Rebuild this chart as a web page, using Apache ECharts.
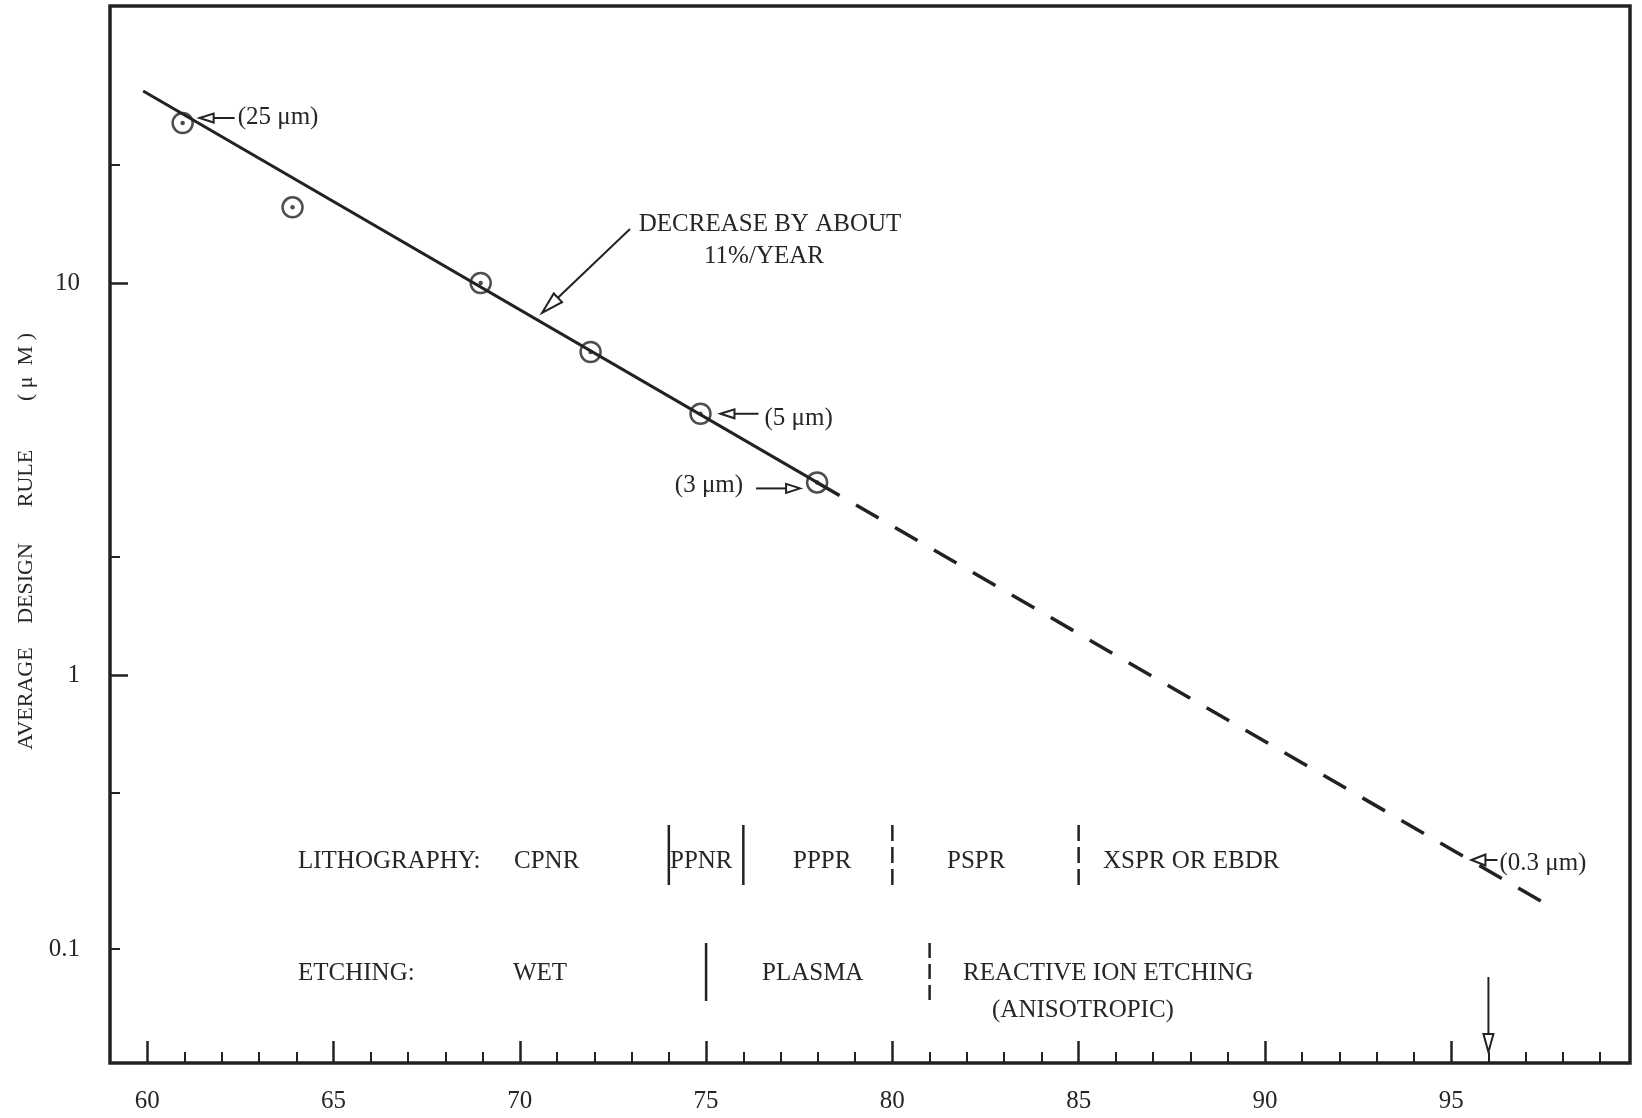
<!DOCTYPE html>
<html>
<head>
<meta charset="utf-8">
<script src="https://cdn.jsdelivr.net/npm/echarts@6/dist/echarts.min.js"></script>
<style>
html,body{margin:0;padding:0;background:#fff;}
#c{width:1642px;height:1118px;}
</style>
</head>
<body>
<div id="c"></div>
<script>
// ---------------- data ----------------
const years = [60.95, 63.9, 68.95, 71.9, 74.85, 77.98];
const designRule = [25.6, 15.6, 10.0, 6.67, 4.64, 3.1];
const trendSolidYears = [59.89, 77.98];
const trendSolidValues = [30.9, 3.1];
const trendDashedYears = [77.98, 97.44];
const trendDashedValues = [3.1, 0.264];
const xMajorTicks = [60, 65, 70, 75, 80, 85, 90, 95];
const xMinorTicks = [61, 62, 63, 64, 66, 67, 68, 69, 71, 72, 73, 74, 76, 77, 78, 79,
                     81, 82, 83, 84, 86, 87, 88, 89, 91, 92, 93, 94, 96, 97, 98, 99];
const yMajorTicks = [10, 1];
const yMinorTicks = [20, 2, 0.5, 0.2];
const yLabelValues = [10, 1, 0.2];
const yLabelTexts = ['10', '1', '0.1'];
const lithoBoundaries = [74, 76, 80, 85];
const lithoBoundaryDashed = [false, false, true, true];
const lithoNames = ['CPNR', 'PPNR', 'PPPR', 'PSPR', 'XSPR OR EBDR'];
const etchBoundaries = [75, 81];
const etchBoundaryDashed = [false, true];
const etchNames = ['WET', 'PLASMA', 'REACTIVE ION ETCHING', '(ANISOTROPIC)'];
const markedYear = 96;

// ---------------- styling ----------------
const FONT = '"Liberation Serif", "Times New Roman", serif';
const INK = '#222222';
const TEXT = '#262626';

const chart = echarts.init(document.getElementById('c'));

function zip(xs, ys) { return xs.map((x, i) => [x, ys[i]]); }
function yLabel(v) {
  const i = yLabelValues.findIndex(u => Math.abs(Math.log10(u) - Math.log10(v)) < 1e-6);
  return i >= 0 ? yLabelTexts[i] : '';
}

const baseX = {
  type: 'value', min: 59, max: 99.8, position: 'bottom',
  axisLine: { show: false }, splitLine: { show: false }
};
const baseY = {
  type: 'log', logBase: 10, min: 0.1024, max: 50.9, position: 'left',
  axisLine: { show: false }, splitLine: { show: false }, minorTick: { show: false }
};

chart.setOption({
  animation: false,
  backgroundColor: '#ffffff',
  grid: { left: 110, right: 12, top: 6, bottom: 55, show: true,
          borderColor: INK, borderWidth: 3.5, backgroundColor: 'transparent' },
  xAxis: [
    Object.assign({}, baseX, {
      axisTick: { show: true, inside: true, length: 22, customValues: xMajorTicks,
                  lineStyle: { color: INK, width: 2.5 } },
      axisLabel: { show: true, customValues: xMajorTicks, margin: 26,
                   fontFamily: FONT, fontSize: 25, color: TEXT, formatter: v => String(v) }
    }),
    Object.assign({}, baseX, {
      axisTick: { show: true, inside: true, length: 11, customValues: xMinorTicks,
                  lineStyle: { color: INK, width: 2 } },
      axisLabel: { show: false }
    })
  ],
  yAxis: [
    Object.assign({}, baseY, {
      axisTick: { show: true, inside: true, length: 18, customValues: yMajorTicks,
                  lineStyle: { color: INK, width: 2.5 } },
      axisLabel: { show: true, customValues: yLabelValues, margin: 30,
                   fontFamily: FONT, fontSize: 25, color: TEXT, formatter: yLabel }
    }),
    Object.assign({}, baseY, {
      axisTick: { show: true, inside: true, length: 10, customValues: yMinorTicks,
                  lineStyle: { color: INK, width: 2 } },
      axisLabel: { show: false }
    })
  ],
  series: [
    { type: 'line', xAxisIndex: 0, yAxisIndex: 0, data: zip(trendSolidYears, trendSolidValues),
      symbol: 'none', lineStyle: { color: INK, width: 3 }, z: 2 },
    { type: 'line', xAxisIndex: 0, yAxisIndex: 0, data: zip(trendDashedYears, trendDashedValues),
      symbol: 'none', lineStyle: { color: INK, width: 3.5, type: [26, 19] }, z: 2 },
    { type: 'scatter', xAxisIndex: 0, yAxisIndex: 0, data: zip(years, designRule),
      symbol: 'circle', symbolSize: 20,
      itemStyle: { color: 'rgba(0,0,0,0)', borderColor: INK, borderWidth: 2.5 }, z: 3 },
    { type: 'scatter', xAxisIndex: 0, yAxisIndex: 0, data: zip(years, designRule),
      symbol: 'circle', symbolSize: 4.5, itemStyle: { color: INK }, z: 4 }
  ]
});

// ---------------- annotations ----------------
const toPx = (x, y) => chart.convertToPixel({ seriesIndex: 2 }, [x, y]);
const xPx = (x) => chart.convertToPixel({ xAxisIndex: 0 }, x);
const g = [];

function text(x, y, s, align, size) {
  g.push({ type: 'text', x: x, y: y, z: 10,
    style: { text: s, align: align || 'left', verticalAlign: 'middle',
             fontFamily: FONT, fontSize: size || 25, fill: TEXT } });
}
function line(x1, y1, x2, y2, lw, dash) {
  g.push({ type: 'line', z: 10, shape: { x1: x1, y1: y1, x2: x2, y2: y2 },
    style: { stroke: INK, lineWidth: lw || 2, lineDash: dash || null } });
}
function arrow(tail, tip, L, W, lw) {
  const dx = tip[0] - tail[0], dy = tip[1] - tail[1];
  const len = Math.hypot(dx, dy), ux = dx / len, uy = dy / len;
  const bx = tip[0] - ux * L, by = tip[1] - uy * L;
  const nx = -uy, ny = ux;
  line(tail[0], tail[1], bx, by, lw || 2);
  g.push({ type: 'polygon', z: 10,
    shape: { points: [[tip[0], tip[1]], [bx + nx * W, by + ny * W], [bx - nx * W, by - ny * W]] },
    style: { fill: '#ffffff', stroke: INK, lineWidth: lw || 2 } });
}

const P = years.map((x, i) => toPx(x, designRule[i]));

// (25 μm)
arrow([P[0][0] + 52, P[0][1] - 5], [P[0][0] + 17, P[0][1] - 5], 14, 4.5);
text(P[0][0] + 55, P[0][1] - 6, '(25 μm)');
// (5 μm)
arrow([P[4][0] + 58, P[4][1]], [P[4][0] + 20, P[4][1]], 14, 4.5);
text(P[4][0] + 64, P[4][1] + 5, '(5 μm)');
// (3 μm)
arrow([P[5][0] - 61, P[5][1] + 6], [P[5][0] - 17, P[5][1] + 6], 14, 4.5);
text(P[5][0] - 74, P[5][1] + 3, '(3 μm)', 'right');
// decrease
arrow([630, 229], [542, 313], 22, 6);
text(770, 224, 'DECREASE BY ABOUT', 'center');
text(764, 256, '11%/YEAR', 'center');
// 0.3 μm
const x96 = xPx(markedYear);
arrow([x96 + 9, 860], [x96 - 17, 860], 14, 5.5);
text(x96 + 11, 863, '(0.3 μm)');
arrow([x96, 977], [x96, 1052], 18, 5);

// y axis title
g.push({ type: 'text', x: 26, y: 534, rotation: Math.PI / 2, z: 10,
  style: { text: '{w1|AVERAGE}{s1|}{w2|DESIGN}{s2|}{w3|RULE}{s3|}{w4|( μ  M )}',
           align: 'center', verticalAlign: 'middle', fill: TEXT,
           fontFamily: FONT, fontSize: 22,
           rich: {
             w1: { fontFamily: FONT, fontSize: 22, fill: TEXT, width: 105, align: 'center' },
             s1: { width: 10 },
             w2: { fontFamily: FONT, fontSize: 22, fill: TEXT, width: 105, align: 'center' },
             s2: { width: 21 },
             w3: { fontFamily: FONT, fontSize: 22, fill: TEXT, width: 63, align: 'center' },
             s3: { width: 30 },
             w4: { fontFamily: FONT, fontSize: 22, fill: TEXT, width: 100, align: 'center' }
           } } });

// lithography row
const LY = 861;
text(298, LY, 'LITHOGRAPHY:');
const lithoLeft = [514, 670, 793, 947, 1103];
lithoNames.forEach((n, i) => text(lithoLeft[i], LY, n));
lithoBoundaries.forEach((yr, i) => {
  const x = xPx(yr);
  line(x, 825, x, 885, 2.5, lithoBoundaryDashed[i] ? [16, 6] : null);
});

// etching row
const EY = 973;
text(298, EY, 'ETCHING:');
const etchPos = [[513, EY], [762, EY], [963, EY], [992, 1010]];
etchNames.forEach((n, i) => text(etchPos[i][0], etchPos[i][1], n));
etchBoundaries.forEach((yr, i) => {
  const x = xPx(yr);
  line(x, 943, x, 1001, 2.5, etchBoundaryDashed[i] ? [15, 6] : null);
});

chart.setOption({ graphic: { elements: g } });
</script>
</body>
</html>
